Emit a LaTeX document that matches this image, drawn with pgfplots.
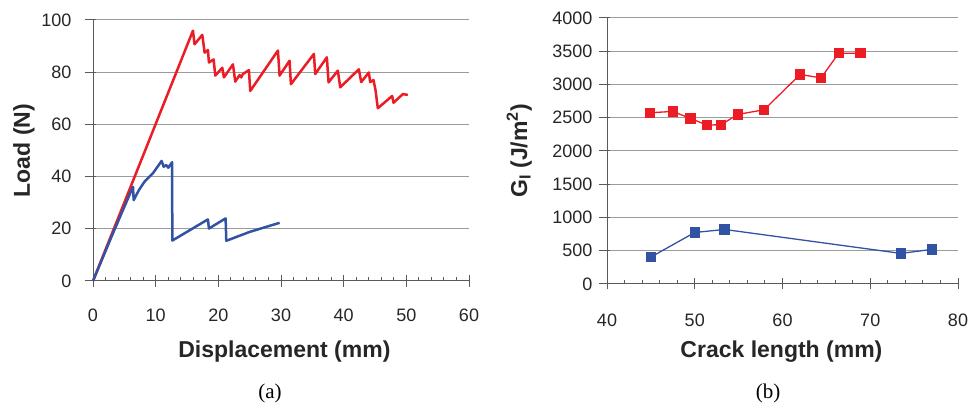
\documentclass[border=0pt]{standalone}
\usepackage{fontspec}
\setmainfont{Liberation Sans}
\newfontfamily\capfont{Liberation Serif}
\usepackage{pgfplots}
\pgfplotsset{compat=1.18}
\definecolor{cred}{RGB}{236,28,36}
\definecolor{cblue}{RGB}{50,82,163}
\definecolor{axgray}{RGB}{90,90,90}
\definecolor{gridgray}{RGB}{155,155,155}

\pgfplotsset{
  panel/.style={
    scale only axis,
    anchor=south west,
    axis lines*=left,
    axis line style={-,draw=axgray,line width=1pt},
    enlargelimits=false,
    ymajorgrids,
    grid style={draw=gridgray,line width=1pt},
    tick style={draw=axgray,line width=1pt},
    xtick align=center, ytick align=center,
    major tick length=11pt,
    minor tick length=3.5pt,
    minor x tick num=4,
    minor x tick style={yshift=1.75pt},
    major y tick style={xshift=-3pt},
    tick label style={font=\fontsize{18}{20}\selectfont, text=black!85},
    label style={font=\bfseries\fontsize{23}{26}\selectfont, text=black!85},
    /pgf/number format/assume math mode=true,
    /pgf/number format/set thousands separator={},
    clip=false,
  },
}

\begin{document}
\begin{tikzpicture}
\path[use as bounding box] (0,0) rectangle (968pt,404pt);

% (a) load vs displacement
\begin{axis}[panel,
  at={(93pt,123pt)}, width=376pt, height=261pt,
  xmin=0, xmax=60, ymin=0, ymax=100,
  xtick={0,10,...,60}, ytick={0,20,...,100},
  xlabel={Displacement (mm)}, ylabel={Load (N)},
  xlabel style={at={(axis description cs:0.509,-0.272)}, anchor=center},
  ylabel style={at={(axis description cs:-0.1835,0.5)}, anchor=center},
  yticklabel style={anchor=east, inner sep=0pt, xshift=-16pt},
  xticklabel style={anchor=north, inner sep=0pt, yshift=-22pt},
]
\addplot[cred, line width=2.5pt, line join=round] coordinates {
  (0,0) (15.95,95.9) (16.21,90.7) (17.44,94.3) (17.81,87.5) (18.34,88.5)
  (18.50,83.7) (19.25,84.9) (19.51,78.7) (20.63,81.7) (20.89,78.0)
  (22.33,83.0) (22.70,76.4) (23.39,78.9) (23.66,78.0) (23.92,79.3)
  (24.24,79.8) (24.88,80.8) (25.09,72.8) (29.51,88.3) (29.77,78.7)
  (31.37,84.4) (31.58,75.4) (35.25,87.0) (35.46,79.3) (37.32,85.7)
  (37.59,76.1) (39.07,80.6) (39.45,74.2) (42.42,81.1) (42.80,76.2)
  (44.02,79.9) (44.23,76.2) (44.76,77.0) (45.08,73.2) (45.45,66.2)
  (47.74,70.9) (47.95,68.3) (49.44,71.6) (50.24,71.3)
};
\addplot[cblue, line width=2.5pt, line join=round] coordinates {
  (0,0) (3.19,18.3) (6.38,36.1) (6.49,31.0) (7.34,34.9) (8.24,38.1)
  (9.57,41.3) (10.95,46.0) (11.27,43.8) (11.70,44.4) (12.01,43.4)
  (12.62,45.5) (12.66,15.5) (18.34,23.6) (18.50,20.1) (21.16,24.0)
  (21.27,15.4) (24.99,18.8) (29.78,22.3)
};
\end{axis}

% (b) G_I vs crack length
\begin{axis}[panel,
  at={(607pt,120pt)}, width=351pt, height=266pt,
  xmin=40, xmax=80, ymin=0, ymax=4000,
  xtick={40,50,...,80}, ytick={0,500,...,4000},
  xlabel={Crack length (mm)},
  ylabel={G\textsubscript{I} (J/m\textsuperscript{2})},
  xlabel style={at={(axis description cs:0.497,-0.256)}, anchor=center},
  ylabel style={at={(axis description cs:-0.25,0.5)}, anchor=center},
  yticklabel style={anchor=east, inner sep=0pt, xshift=-9pt},
  xticklabel style={anchor=north, inner sep=0pt, yshift=-24pt},
]
\addplot[cred, line width=1.3pt, mark=square*, mark size=4.5pt,
  mark options={solid, fill=cred, draw=cred}] coordinates {
  (44.9,2575) (47.5,2595) (49.5,2490) (51.4,2390) (53.0,2395)
  (54.9,2550) (57.9,2620) (62.0,3150) (64.4,3100) (66.4,3470) (68.9,3470)
};
\addplot[cblue, line width=1.3pt, mark=square*, mark size=4.5pt,
  mark options={solid, fill=cblue, draw=cblue}] coordinates {
  (45.0,405) (50.0,775) (53.4,820) (73.5,460) (77.0,520)
};
\end{axis}

\node[font=\capfont\fontsize{21}{24}\selectfont] at (270pt,11pt) {(a)};
\node[font=\capfont\fontsize{21}{24}\selectfont] at (768pt,11pt) {(b)};
\end{tikzpicture}
\end{document}
